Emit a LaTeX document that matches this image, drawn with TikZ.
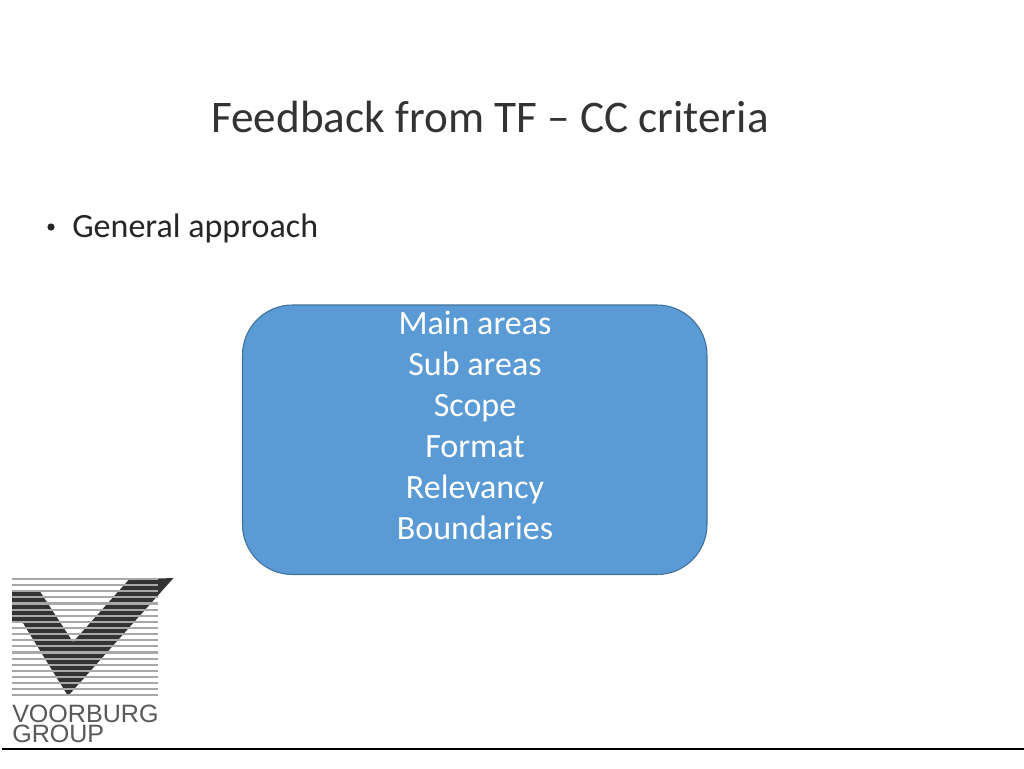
\documentclass[tikz,border=0pt]{standalone}
\usepackage{fontspec}
\setmainfont{Carlito}
\newfontfamily\logofont{Liberation Sans}
\definecolor{boxfill}{HTML}{5B9BD5}
\definecolor{boxline}{HTML}{41719C}
\definecolor{logodark}{HTML}{333333}
\definecolor{logogray}{HTML}{A8A8A8}
\tikzset{
  titletext/.style={anchor=base,inner sep=0pt,font=\fontsize{33.9pt}{36pt}\selectfont,text=black!80},
  bodytext/.style={anchor=base west,inner sep=0pt,font=\fontsize{25.5pt}{28pt}\selectfont,text=black!85},
  areabox/.style={draw=boxline,line width=0.8pt,fill=boxfill,rounded corners=37.5pt},
  arealabel/.style={anchor=base,inner sep=0pt,text=white,font=\fontsize{25.5pt}{28pt}\selectfont},
  logoword/.style={anchor=base west,inner sep=0pt,text=black!65,font=\logofont\fontsize{18.8pt}{20pt}\selectfont},
  stripe/.style={draw=logogray,line width=1.6pt}
}
\begin{document}
\begin{tikzpicture}[x=0.75pt,y=-0.75pt]
\useasboundingbox (0,0) rectangle (1024,768);
\fill[white] (0,0) rectangle (1024,768);
\node[titletext] (title) at (490,132) {Feedback from TF – CC criteria};
\fill[black!85] (51,227) circle (3.6);
\node[bodytext] (general) at (72,237) {General approach};
\draw[areabox] (242.5,305) rectangle (707,574.5);
\node[arealabel] (a1) at (475,334) {Main areas};
\node[arealabel] (a2) at (475,375) {Sub areas};
\node[arealabel] (a3) at (475,416) {Scope};
\node[arealabel] (a4) at (475,457) {Format};
\node[arealabel] (a5) at (475,498) {Relevancy};
\node[arealabel] (a6) at (475,539) {Boundaries};
% logo
\fill[logodark] (12,591.5) -- (40,591.5) -- (73,642) -- (129,579.5) -- (173.5,578) -- (68,696) -- (23,623) -- (12,621) -- cycle;
\foreach \k in {0,...,19}{
  \draw[stripe] (12,{579+\k*6.12}) -- (158,{579+\k*6.12});
}
\node[logoword] (w1) at (12,722.5) {VOORBURG};
\node[logoword] (w2) at (12,742.5) {GROUP};
\draw[black,line width=1.5pt] (2,748.5) -- (1024,748.5);
\end{tikzpicture}
\end{document}
